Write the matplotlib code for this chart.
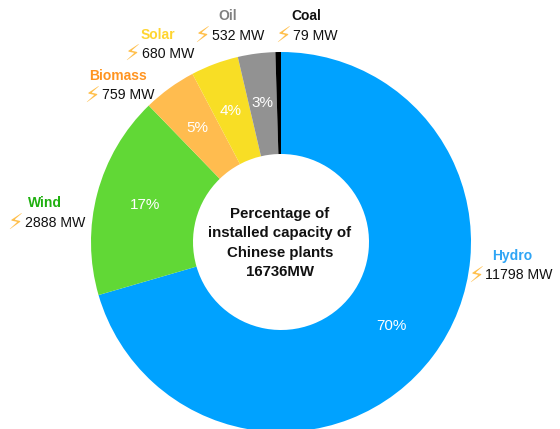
import matplotlib
matplotlib.use('Agg')
import matplotlib.pyplot as plt

names = ['Hydro', 'Wind', 'Biomass', 'Solar', 'Oil', 'Coal']
capacity = [11798, 2888, 759, 680, 532, 79]
percents = ['70%', '17%', '5%', '4%', '3%', '']
colors = ['#00A2FF', '#61D836', '#FFBC4F', '#F8DE25', '#929292', '#000000']
name_colors = ['#2FA5F5', '#20B010', '#FF9420', '#FFD531', '#808080', '#111111']
total_label = 'Percentage of\ninstalled capacity of\nChinese plants\n16736MW'

# label anchors in pixels: percent text, then name, then value line
pct_xy = [(391, 326), (145, 205), (197, 128), (231, 111), (262, 103), None]
name_xy = [(512, 256), (45, 203), (118, 76), (158, 35), (228, 16), (306, 16)]
value_xy = [(485, 275), (25, 223), (102, 95), (142, 54), (212, 36), (293, 36)]
bolt_xy = [(476, 277), (15, 224), (92, 97), (132, 55), (202, 37), (283, 37)]

plt.rcParams['font.family'] = ['Liberation Sans', 'DejaVu Sans']

fig = plt.figure(figsize=(5.6, 4.29), dpi=100, facecolor='white')
ax = fig.add_axes([0, 0, 1, 1])

cx, cy = 281, 429 - 242
ax.pie(capacity, colors=colors, startangle=90, counterclock=False,
       center=(cx, cy), radius=190, frame=True,
       wedgeprops=dict(width=102, linewidth=0))
ax.set_xlim(0, 560)
ax.set_ylim(0, 429)
ax.axis('off')

for i in range(len(names)):
    if pct_xy[i]:
        ax.text(pct_xy[i][0], 429 - pct_xy[i][1], percents[i], color='white',
                fontsize=11, ha='center', va='center')
    ax.text(name_xy[i][0], 429 - name_xy[i][1], names[i], color=name_colors[i],
            fontsize=10, fontweight='bold', ha='center', va='center')
    ax.text(value_xy[i][0], 429 - value_xy[i][1], '%d MW' % capacity[i], color='#111111',
            fontsize=10.2, ha='left', va='center')
    ax.text(bolt_xy[i][0], 429 - bolt_xy[i][1], '\u26a1', color='#FFC04D',
            fontsize=16, ha='center', va='center', family='DejaVu Sans')

ax.text(280, 429 - 243, total_label, color='#111111', fontsize=10.8, fontweight='bold',
        ha='center', va='center', linespacing=1.48)

fig.savefig('out.png', dpi=100, facecolor='white')
plt.close()
